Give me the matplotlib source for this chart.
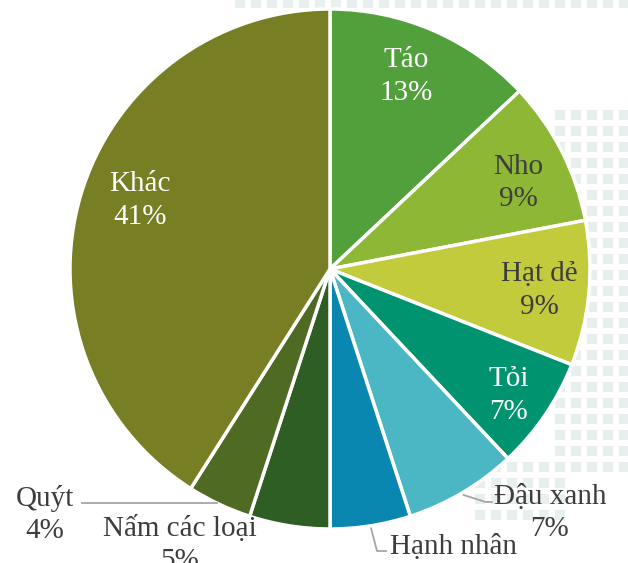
import numpy as np
import matplotlib
matplotlib.use("Agg")
import matplotlib.pyplot as plt

# dữ liệu
labels = ["Táo", "Nho", "Hạt dẻ", "Tỏi", "Đậu xanh", "Hạnh nhân", "Nấm các loại", "Quýt", "Khác"]
values = [13, 9, 9, 7, 7, 5, 5, 4, 41]
colors = ["#52A03B", "#8DB734", "#C2CB3C", "#00936F", "#4BB6C4",
          "#0A87B0", "#2F5E24", "#4E6A23", "#777E23"]
inside = ["Táo", "Nho", "Hạt dẻ", "Tỏi", "Khác"]
white_text = ["Táo", "Tỏi", "Khác"]
# chỉnh nhẹ vị trí nhãn bên trong (pixel)
nudge = {"Táo": (-5, 4), "Nho": (5, -7), "Hạt dẻ": (5, -2), "Tỏi": (9, -11), "Khác": (7, 11)}

plt.rcParams['font.family'] = ['Liberation Serif', 'DejaVu Serif']
fig = plt.figure(figsize=(6.28, 5.63), dpi=100)
ax = fig.add_axes([0, 0, 1, 1])

# nền chấm mờ
gx, gy = np.meshgrid(np.arange(-330, 300, 16), np.arange(-294, 270, 16))
gx = gx.ravel(); gy = gy.ravel()
m = ((gx > 225) & (gy > -200) & (gy < 170)) | ((gy > 255) & (gx > -100)) | \
    ((gx > 140) & (gx < 240) & (gy > -250) & (gy < -190))
ax.scatter(gx[m], gy[m], s=50, marker='s', color='#e8f0ef', zorder=0, linewidths=0)

R = 260
wedges, _ = ax.pie(values, colors=colors, startangle=90, counterclock=False,
                   radius=R, wedgeprops=dict(edgecolor='white', linewidth=2.5))
ax.set_xlim(-330, 298)
ax.set_ylim(-294, 269)
ax.set_aspect('equal')
ax.axis('off')

fs = 21
ls = 1.32
for w, lab, v in zip(wedges, labels, values):
    mid = np.deg2rad((w.theta1 + w.theta2) / 2)
    if lab in inside:
        r = 0.79 * R
        c = 'white' if lab in white_text else '#3d3d3d'
        dx, dy = nudge[lab]
        ax.text(r * np.cos(mid) + dx, r * np.sin(mid) + dy, f"{lab}\n{v}%",
                ha='center', va='center', fontsize=fs, color=c, linespacing=ls)

def outside(lab, xy_edge, pts, txy):
    v = values[labels.index(lab)]
    if pts:
        xs = [xy_edge[0]] + [p[0] for p in pts]
        ys = [xy_edge[1]] + [p[1] for p in pts]
        ax.plot(xs, ys, color='#a6a6a6', lw=1.3, zorder=3)
    ax.text(txy[0], txy[1], f"{lab}\n{v}%", ha='center', va='top', fontsize=fs,
            color='#3d3d3d', linespacing=ls)

def edge(lab, f=1.0):
    w = wedges[labels.index(lab)]
    mid = np.deg2rad((w.theta1 + w.theta2) / 2)
    return (f * R * np.cos(mid), f * R * np.sin(mid))

e = edge("Quýt", 0.97)
outside("Quýt", (e[0] - 6, -234), [(-248, -234)], (-285, -216))
e = edge("Đậu xanh", 1.01)
outside("Đậu xanh", e, [(e[0] + 22, -233), (e[0] + 28, -233)], (220, -215))
e = edge("Hạnh nhân", 1.01)
outside("Hạnh nhân", e, [(47, -282), (56, -282)], (123, -265))
outside("Nấm các loại", edge("Nấm các loại"), [], (-150, -246))

fig.savefig("out.png", dpi=100)
